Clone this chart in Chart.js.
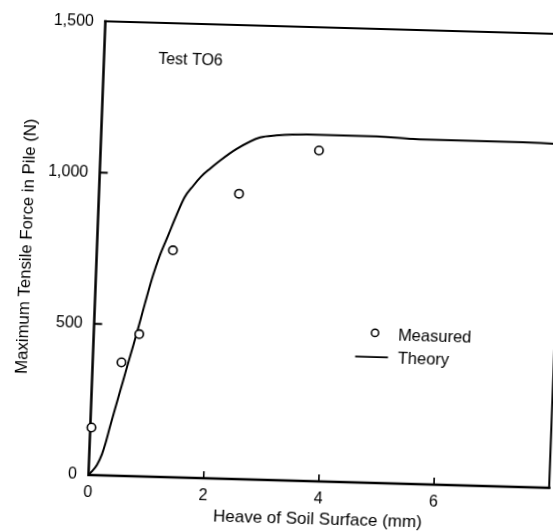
<!DOCTYPE html>
<html>
<head>
<meta charset="utf-8">
<title>Test TO6 – Maximum Tensile Force in Pile</title>
<script src="https://cdn.jsdelivr.net/npm/chart.js@4/dist/chart.umd.min.js"></script>
<style>
  html, body { margin: 0; padding: 0; background: #fff; overflow: hidden; width: 553px; height: 531px; }
  /* the printed figure sits slightly tilted on the page */
  #wrap {
    position: absolute; left: 0; top: 0; width: 600px; height: 560px;
    transform-origin: 88.5px 475px;
    transform: matrix(0.99961, 0.0279, -0.0372, 0.99931, 0, 0);
  }
</style>
</head>
<body>
<div id="wrap"><canvas id="c" width="600" height="560"></canvas></div>
<script>
// Measured maximum tensile force vs. heave of the soil surface
const heaveMeasured = [0.02, 0.50, 0.79, 1.32, 2.43, 3.79];
const forceMeasured = [157, 375, 470, 750, 943, 1093];

// Theoretical curve
const heaveTheory = [0, 0.05, 0.14, 0.22, 0.27, 0.34, 0.44, 0.54, 0.62, 0.70, 0.76, 0.87, 0.99,
                     1.10, 1.23, 1.36, 1.49, 1.63, 1.76, 1.91, 2.08, 2.36, 2.76, 3.04, 3.56,
                     4.02, 4.78, 5.41, 6.05, 6.75, 7.32, 8.0];
const forceTheory = [0, 11, 34, 70, 103, 160, 238, 315, 377, 437, 484, 573, 665,
                     734, 800, 867, 927, 965, 996, 1023, 1051, 1091, 1131, 1139, 1145,
                     1145, 1145, 1140, 1139, 1139, 1139, 1137];

const xTickValues = [0, 2, 4, 6];
const xTickLabels = ['0', '2', '4', '6'];
const yTickValues = [0, 500, 1000, 1500];
const yTickLabels = ['0', '500', '1,000', '1,500'];

const seriesNames = ['Measured', 'Theory'];
const testName = 'Test TO6';
const xTitle = 'Heave of Soil Surface (mm)';
const yTitle = 'Maximum Tensile Force in Pile (N)';

const FONT = "'Liberation Sans', Arial, Helvetica, sans-serif";
const INK = '#000';
Chart.defaults.font.family = FONT;
Chart.defaults.color = INK;

// Box frame, inward tick marks, in-plot label and legend
const framePlugin = {
  id: 'frame',
  beforeDatasetsDraw(chart) {
    const { ctx, chartArea: a, scales: { x, y } } = chart;
    ctx.save();
    ctx.strokeStyle = INK;
    ctx.lineCap = 'square';
    ctx.lineWidth = 2;
    ctx.beginPath();
    ctx.moveTo(a.left, a.top); ctx.lineTo(a.right, a.top); ctx.lineTo(a.right, a.bottom);
    ctx.stroke();
    ctx.lineWidth = 2.5;
    ctx.beginPath();
    ctx.moveTo(a.left, a.top); ctx.lineTo(a.left, a.bottom); ctx.lineTo(a.right, a.bottom);
    ctx.stroke();
    ctx.lineCap = 'butt';
    ctx.lineWidth = 2;
    yTickValues.forEach(v => {
      if (v <= y.min || v >= y.max) return;
      const p = y.getPixelForValue(v);
      ctx.beginPath(); ctx.moveTo(a.left, p); ctx.lineTo(a.left + 8, p); ctx.stroke();
    });
    ctx.lineWidth = 1.6;
    xTickValues.forEach(v => {
      if (v <= x.min || v >= x.max) return;
      const p = x.getPixelForValue(v);
      ctx.beginPath(); ctx.moveTo(p, a.bottom); ctx.lineTo(p, a.bottom - 7); ctx.stroke();
    });
    ctx.restore();
  },
  afterDraw(chart) {
    const { ctx, scales: { x, y } } = chart;
    const px = v => x.getPixelForValue(v);
    const py = v => y.getPixelForValue(v);
    ctx.save();
    ctx.fillStyle = INK;
    ctx.strokeStyle = INK;
    ctx.textAlign = 'left';
    ctx.textBaseline = 'middle';

    ctx.font = `16px ${FONT}`;
    ctx.fillText(testName, px(0.94), py(1381));

    // legend
    ctx.font = `16.5px ${FONT}`;
    ctx.lineWidth = 1.5;
    ctx.fillStyle = '#fff';
    ctx.beginPath(); ctx.arc(px(4.88), py(496), 3.6, 0, Math.PI * 2); ctx.fill(); ctx.stroke();
    ctx.fillStyle = INK;
    ctx.fillText(seriesNames[0], px(5.28), py(488));
    ctx.lineWidth = 1.8;
    ctx.beginPath(); ctx.moveTo(px(4.55), py(416)); ctx.lineTo(px(5.12), py(416)); ctx.stroke();
    ctx.fillText(seriesNames[1], px(5.29), py(412));
    ctx.restore();
  }
};

new Chart(document.getElementById('c'), {
  type: 'scatter',
  data: {
    datasets: [
      {
        label: seriesNames[0],
        data: heaveMeasured.map((h, i) => ({ x: h, y: forceMeasured[i] })),
        showLine: false,
        pointStyle: 'circle',
        pointRadius: 4.2,
        pointBorderWidth: 1.6,
        pointBorderColor: INK,
        pointBackgroundColor: '#fff',
        clip: false
      },
      {
        label: seriesNames[1],
        data: heaveTheory.map((h, i) => ({ x: h, y: forceTheory[i] })),
        showLine: true,
        borderColor: INK,
        borderWidth: 2,
        pointRadius: 0,
        cubicInterpolationMode: 'monotone',
        fill: false
      }
    ]
  },
  options: {
    responsive: false,
    animation: false,
    devicePixelRatio: 1,
    layout: { padding: { left: 0, top: 18, right: 50.7, bottom: 0 } },
    plugins: { legend: { display: false }, tooltip: { enabled: false }, title: { display: false } },
    scales: {
      x: {
        type: 'linear',
        position: 'bottom',
        min: 0,
        max: 8,
        grid: { display: false, drawTicks: false },
        border: { display: false },
        afterBuildTicks: s => { s.ticks = xTickValues.map(v => ({ value: v })); },
        afterFit: s => { s.height = 85; },
        ticks: {
          font: { size: 16 },
          color: INK,
          padding: 8,
          maxRotation: 0,
          callback: v => { const i = xTickValues.indexOf(v); return i < 0 ? '' : xTickLabels[i]; }
        },
        title: {
          display: true,
          text: xTitle,
          color: INK,
          font: { size: 17 },
          padding: { top: 0, bottom: 36.2 }
        }
      },
      y: {
        type: 'linear',
        position: 'left',
        min: 0,
        max: 1500,
        grid: { display: false, drawTicks: false },
        border: { display: false },
        afterBuildTicks: s => { s.ticks = yTickValues.map(v => ({ value: v })); },
        afterFit: s => { s.width = 88.5; },
        ticks: {
          font: { size: 16 },
          color: INK,
          padding: 11.5,
          callback: v => { const i = yTickValues.indexOf(v); return i < 0 ? '' : yTickLabels[i]; }
        },
        title: {
          display: true,
          text: yTitle,
          color: INK,
          font: { size: 16.8 },
          padding: { top: 8.4, bottom: 0 }
        }
      }
    }
  },
  plugins: [framePlugin]
});
</script>
</body>
</html>
